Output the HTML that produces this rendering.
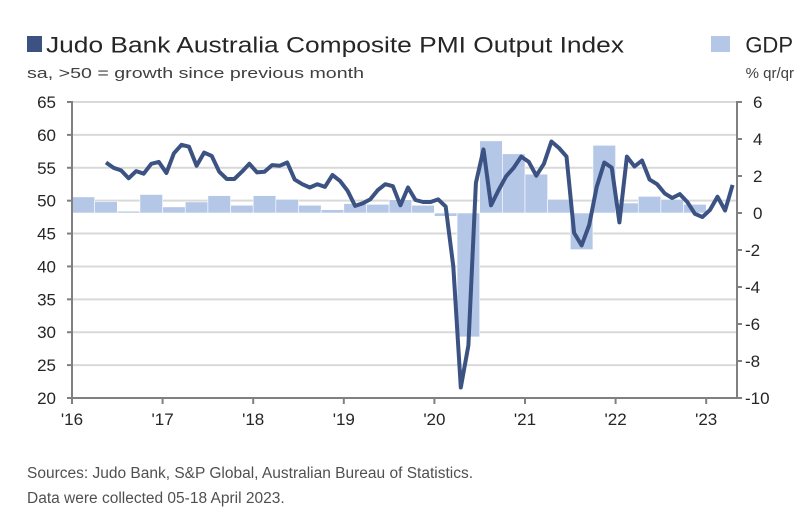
<!DOCTYPE html>
<html><head><meta charset="utf-8"><style>
body{margin:0;background:#fff;}
svg{display:block;font-family:"Liberation Sans",sans-serif;}
</style></head><body>
<svg id="chart" width="805" height="525" viewBox="0 0 805 525">
<rect x="27" y="36" width="15" height="16" fill="#3b5282"/>
<text x="46" y="52.5" font-size="22" fill="#262626" textLength="578" lengthAdjust="spacingAndGlyphs">Judo Bank Australia Composite PMI Output Index</text>
<text x="27" y="78" font-size="15" fill="#404040" textLength="337" lengthAdjust="spacingAndGlyphs">sa, &gt;50 = growth since previous month</text>
<rect x="711" y="36" width="19" height="16" fill="#b4c7e7"/>
<text x="793" y="52.5" font-size="22" fill="#262626" text-anchor="end">GDP</text>
<text x="794" y="78" font-size="15" fill="#404040" text-anchor="end">% qr/qr</text>
<g id="grid"></g><g id="bars"></g><g id="axes"></g><g id="line"></g>
<text x="27" y="478" font-size="15.5" fill="#505050">Sources: Judo Bank, S&amp;P Global, Australian Bureau of Statistics.</text>
<text x="27" y="503" font-size="15.5" fill="#505050">Data were collected 05-18 April 2023.</text>
</svg>
<script>
const pmi = [55.8,55.0,54.6,53.4,54.5,54.1,55.6,55.9,
54.2,57.2,58.5,58.2,55.3,57.3,56.8,54.4,53.3,53.3,54.4,55.6,
54.3,54.4,55.4,55.3,55.8,53.2,52.5,52.0,52.5,52.1,53.9,53.0,
51.5,49.2,49.6,50.2,51.6,52.5,52.2,49.3,52.0,50.1,49.8,49.8,
50.2,49.1,40.0,21.6,28.0,52.7,57.8,49.3,51.6,53.7,55.0,56.7,
55.9,53.8,55.6,59.0,58.0,56.7,45.1,43.2,46.3,52.1,55.8,55.0,
46.7,56.7,55.2,56.1,53.2,52.5,51.1,50.4,51.0,49.8,48.0,47.5,
48.6,50.6,48.5,52.4];
const pmiStart = 4; // months since Jan 2016 (May 2016)
const gdp = [0.87,0.63,0.1,1.0,0.33,0.6,0.94,0.42,0.94,0.74,0.42,0.18,0.51,0.47,0.72,0.42,-0.18,-6.7,3.9,3.2,2.1,0.74,-1.98,3.66,0.54,0.9,0.74,0.47];
const leftTicks = [65,60,55,50,45,40,35,30,25,20];
const rightTicks = [6,4,2,0,-2,-4,-6,-8,-10];
const yearLabels = ["'16","'17","'18","'19","'20","'21","'22","'23"];

const X0=72, X1=737, Y0=102, Y1=398, MW=7.55;
const xm = m => X0 + m*MW;
const yl = v => Y0 + (65-v)/45*(Y1-Y0);
const yr = v => Y0 + (6-v)/16*(Y1-Y0);
const NS="http://www.w3.org/2000/svg";
function mk(tag, attrs, parent){const e=document.createElementNS(NS,tag);for(const k in attrs)e.setAttribute(k,attrs[k]);document.getElementById(parent).appendChild(e);return e;}

leftTicks.forEach(v=>{
  if(v!==20){const g=mk('line',{x1:X0,x2:X1,y1:yl(v),y2:yl(v),stroke:'#d9d9d9','stroke-width':2},'grid');
  
  }
  const t=mk('line',{x1:X0-5,x2:X0,y1:yl(v),y2:yl(v),stroke:'#808080','stroke-width':2},'axes');
  
  
  const l=mk('text',{x:56,y:yl(v)+6,'font-size':17,'text-anchor':'end',fill:'#262626'},'axes');
  l.textContent=v;
  
  
});
rightTicks.forEach(v=>{
  const t=mk('line',{x1:X1,x2:X1+5,y1:yr(v),y2:yr(v),stroke:'#808080','stroke-width':2},'axes');
  
  
  const l=mk('text',{x:v<0?745:753,y:yr(v)+6,'font-size':17,fill:'#262626'},'axes');
  l.textContent=v;
  
  
});
gdp.forEach((v,i)=>{
  const y=Math.min(yr(v),yr(0)),h=Math.abs(yr(v)-yr(0));
  const b=mk('rect',{x:xm(i*3),y:y,width:3*MW,height:Math.max(h,1),fill:'#b4c7e7',stroke:'#ffffff','stroke-width':0.6},'bars');
  
  
});
let a=mk('line',{x1:X0,x2:X0,y1:Y0-1,y2:Y1,stroke:'#808080','stroke-width':2},'axes');


a=mk('line',{x1:X1,x2:X1,y1:Y0-1,y2:Y1,stroke:'#808080','stroke-width':2},'axes');


a=mk('line',{x1:X0,x2:X1+5,y1:Y1,y2:Y1,stroke:'#808080','stroke-width':2},'axes');


yearLabels.forEach((s,i)=>{
  const x=xm(i*12);
  const t=mk('line',{x1:x,x2:x,y1:Y1,y2:Y1+6,stroke:'#808080','stroke-width':2},'axes');
  
  
  const l=mk('text',{x:x,y:425,'font-size':17,'text-anchor':'middle',fill:'#262626'},'axes');
  l.textContent=s;
  
  
});
const pts=pmi.map((v,i)=>xm(pmiStart+i+0.5).toFixed(1)+','+yl(v).toFixed(1)).join(' ');
const p=mk('polyline',{points:pts,fill:'none',stroke:'#3b5282','stroke-width':4,'stroke-linejoin':'round'},'line');


</script>
</body></html>
